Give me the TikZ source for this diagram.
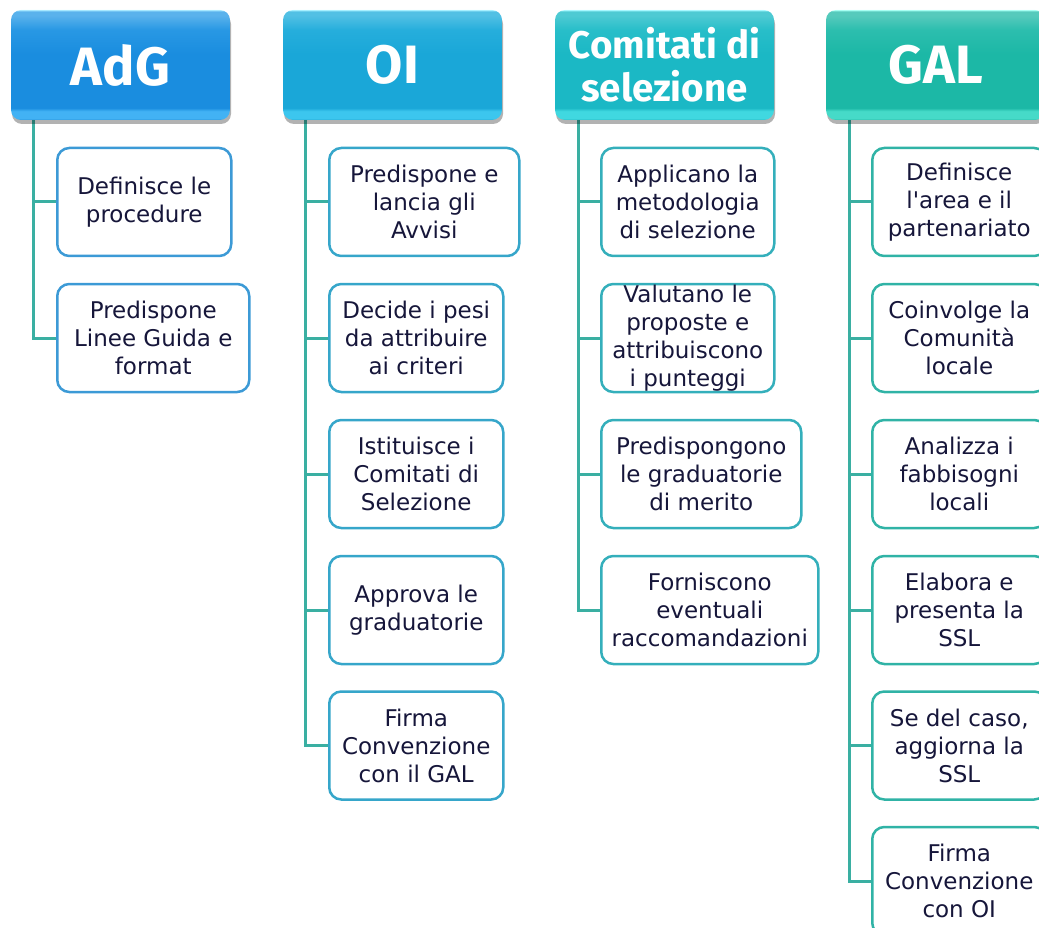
\documentclass[tikz,border=0pt]{standalone}
\usepackage{fontspec}
\setmainfont{DejaVu Sans}[Ligatures=TeXOff]
\newfontfamily\headfont{Fira Sans}
\usetikzlibrary{shadows}

\definecolor{txt}{HTML}{16163A}
\definecolor{conncol}{HTML}{3AAFA2}
% AdG
\definecolor{adgEdge}{HTML}{1A7FCC}
\definecolor{adgBand}{HTML}{42B2F4}
\definecolor{adgMain}{HTML}{1A8DDF}
\definecolor{adgMid}{HTML}{2898E4}
\definecolor{adgTop}{HTML}{5AB2EC}
\definecolor{adgHi}{HTML}{A8E8FF}
\definecolor{adgBorder}{HTML}{3C9AD6}
% OI
\definecolor{oiEdge}{HTML}{1898C4}
\definecolor{oiBand}{HTML}{3CC6EE}
\definecolor{oiMain}{HTML}{1AA7D8}
\definecolor{oiMid}{HTML}{26AEDC}
\definecolor{oiTop}{HTML}{52C0E4}
\definecolor{oiHi}{HTML}{A8F0FF}
\definecolor{oiBorder}{HTML}{36A6CA}
% Comitati
\definecolor{coEdge}{HTML}{18A7B2}
\definecolor{coBand}{HTML}{40D8E0}
\definecolor{coMain}{HTML}{1BB8C5}
\definecolor{coMid}{HTML}{28BEC9}
\definecolor{coTop}{HTML}{4ECAD3}
\definecolor{coHi}{HTML}{A8F8FF}
\definecolor{coBorder}{HTML}{34AFBB}
% GAL
\definecolor{gaEdge}{HTML}{18A896}
\definecolor{gaBand}{HTML}{46DAC8}
\definecolor{gaMain}{HTML}{1CB8A6}
\definecolor{gaMid}{HTML}{2CBEAE}
\definecolor{gaTop}{HTML}{56CABC}
\definecolor{gaHi}{HTML}{A8FFF2}
\definecolor{gaBorder}{HTML}{30B3A6}

\newcommand\DeclGloss[2]{%
  \pgfdeclareverticalshading{#1}{100bp}{%
    color(0bp)=(#2Edge); color(25bp)=(#2Edge); color(25.6bp)=(#2Band);
    color(29bp)=(#2Band); color(30.5bp)=(#2Main); color(55bp)=(#2Main);
    color(66bp)=(#2Mid); color(72.5bp)=(#2Top); color(74.3bp)=(#2Top);
    color(75bp)=(#2Hi); color(100bp)=(#2Hi)}}
\DeclGloss{shAdG}{adg}
\DeclGloss{shOI}{oi}
\DeclGloss{shCo}{co}
\DeclGloss{shGa}{ga}

\tikzset{
  head/.style={rounded corners=10pt, minimum width=219pt, minimum height=110pt,
    inner sep=0pt, align=center, text=white,
    drop shadow={shadow xshift=1pt, shadow yshift=-4pt, opacity=0.30, fill=black},
    font=\headfont\bfseries\fontsize{54}{60}\selectfont},
  child/.style={draw=#1, fill=white, rounded corners=12pt, line width=2.5pt,
    minimum height=108pt, inner sep=0pt, align=center, anchor=west, text=txt,
    font=\fontsize{23}{28}\selectfont},
  conn/.style={draw=conncol, line width=3pt}
}

\begin{document}
\begin{tikzpicture}[x=1pt,y=-1pt]
\useasboundingbox (0,0) rectangle (1039,928);

% spine coordinates
\coordinate (sA) at (33,118);
\coordinate (sO) at (305,118);
\coordinate (sC) at (578,118);
\coordinate (sG) at (849,118);

% AdG children
\node[child=adgBorder, minimum width=174pt] (a1) at (56,202) {Definisce le\\procedure};
\node[child=adgBorder, minimum width=192pt] (a2) at (56,338) {Predispone\\Linee Guida e\\format};

% OI children
\node[child=oiBorder, minimum width=190pt] (o1) at (328,202) {Predispone e\\lancia gli\\Avvisi};
\node[child=oiBorder, minimum width=174pt] (o2) at (328,338) {Decide i pesi\\da attribuire\\ai criteri};
\node[child=oiBorder, minimum width=174pt] (o3) at (328,474) {Istituisce i\\Comitati di\\Selezione};
\node[child=oiBorder, minimum width=174pt] (o4) at (328,610) {Approva le\\graduatorie};
\node[child=oiBorder, minimum width=174pt] (o5) at (328,745.5) {Firma\\Convenzione\\con il GAL};

% Comitati children
\node[child=coBorder, minimum width=173pt] (c1) at (600,202) {Applicano la\\metodologia\\di selezione};
\node[child=coBorder, minimum width=173pt] (c2) at (600,338) {Valutano le\\proposte e\\attribuiscono\\i punteggi};
\node[child=coBorder, minimum width=200pt] (c3) at (600,474) {Predispongono\\le graduatorie\\di merito};
\node[child=coBorder, minimum width=217pt] (c4) at (600,610) {Forniscono\\eventuali\\raccomandazioni};

% GAL children
\node[child=gaBorder, minimum width=174pt] (g1) at (871,202) {Definisce\\l'area e il\\partenariato};
\node[child=gaBorder, minimum width=174pt] (g2) at (871,338) {Coinvolge la\\Comunità\\locale};
\node[child=gaBorder, minimum width=174pt] (g3) at (871,474) {Analizza i\\fabbisogni\\locali};
\node[child=gaBorder, minimum width=174pt] (g4) at (871,610) {Elabora e\\presenta la\\SSL};
\node[child=gaBorder, minimum width=174pt] (g5) at (871,745.5) {Se del caso,\\aggiorna la\\SSL};
\node[child=gaBorder, minimum width=174pt] (g6) at (871,881) {Firma\\Convenzione\\con OI};

% connectors
\draw[conn] (sA) |- (a2.west);
\draw[conn] (sA |- a1.west) -- (a1.west);

\draw[conn] (sO) |- (o5.west);
\foreach \n in {o1,o2,o3,o4} \draw[conn] (sO |- \n.west) -- (\n.west);

\draw[conn] (sC) |- (c4.west);
\foreach \n in {c1,c2,c3} \draw[conn] (sC |- \n.west) -- (\n.west);

\draw[conn] (sG) |- (g6.west);
\foreach \n in {g1,g2,g3,g4,g5} \draw[conn] (sG |- \n.west) -- (\n.west);

% headers
\node[head, shading=shAdG] (adg) at (120.5,65) {AdG};
\node[head, shading=shOI] (oi) at (392.5,65) {OI};
\node[head, shading=shCo, font=\headfont\bfseries\fontsize{38.5}{43}\selectfont] (co) at (664.5,65) {Comitati di\\selezione};
\node[head, shading=shGa] (gal) at (935.5,65) {GAL};
\end{tikzpicture}
\end{document}
